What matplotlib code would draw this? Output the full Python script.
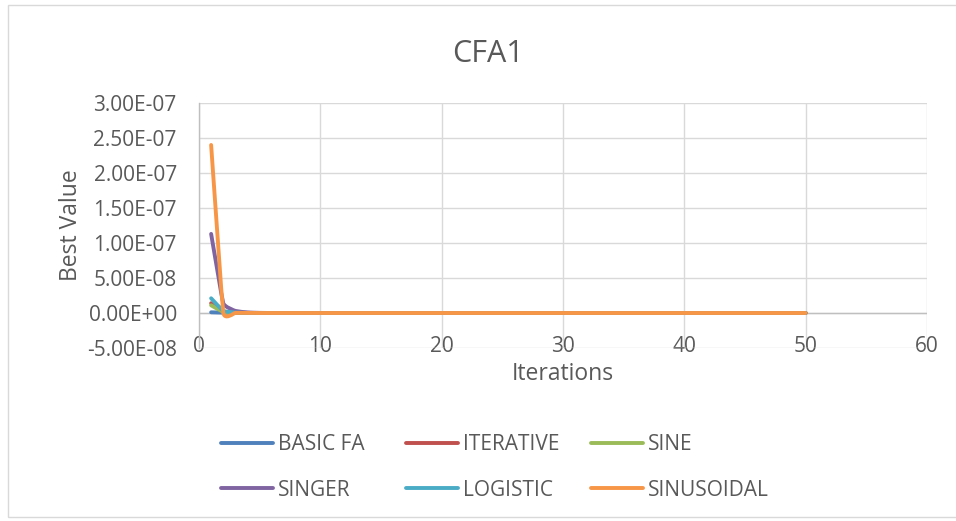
"""
CFA1 convergence chart – best value per iteration for each chaotic map variant.
"""

import numpy as np
import matplotlib
matplotlib.use("Agg")
import matplotlib.pyplot as plt
from matplotlib.path import Path
from matplotlib.patches import PathPatch, Rectangle
from matplotlib.lines import Line2D
from matplotlib.ticker import FuncFormatter

plt.rcParams['font.family'] = ['Open Sans', 'DejaVu Sans']

# ── Data ─────────────────────────────────────────────────────────────────────
iterations = list(range(1, 51))

basic_fa = [1.0e-9, 5.0e-10, 2.0e-10, 1.0e-10, 0.0, 0.0, 0.0, 0.0, 0.0, 0.0,
            0.0, 0.0, 0.0, 0.0, 0.0, 0.0, 0.0, 0.0, 0.0, 0.0,
            0.0, 0.0, 0.0, 0.0, 0.0, 0.0, 0.0, 0.0, 0.0, 0.0,
            0.0, 0.0, 0.0, 0.0, 0.0, 0.0, 0.0, 0.0, 0.0, 0.0,
            0.0, 0.0, 0.0, 0.0, 0.0, 0.0, 0.0, 0.0, 0.0, 0.0]
iterative = [1.4e-8, 2.0e-9, 5.0e-10, 1.0e-10, 0.0, 0.0, 0.0, 0.0, 0.0, 0.0,
             0.0, 0.0, 0.0, 0.0, 0.0, 0.0, 0.0, 0.0, 0.0, 0.0,
             0.0, 0.0, 0.0, 0.0, 0.0, 0.0, 0.0, 0.0, 0.0, 0.0,
             0.0, 0.0, 0.0, 0.0, 0.0, 0.0, 0.0, 0.0, 0.0, 0.0,
             0.0, 0.0, 0.0, 0.0, 0.0, 0.0, 0.0, 0.0, 0.0, 0.0]
sine = [1.1e-8, 1.5e-9, 4.0e-10, 1.0e-10, 0.0, 0.0, 0.0, 0.0, 0.0, 0.0,
        0.0, 0.0, 0.0, 0.0, 0.0, 0.0, 0.0, 0.0, 0.0, 0.0,
        0.0, 0.0, 0.0, 0.0, 0.0, 0.0, 0.0, 0.0, 0.0, 0.0,
        0.0, 0.0, 0.0, 0.0, 0.0, 0.0, 0.0, 0.0, 0.0, 0.0,
        0.0, 0.0, 0.0, 0.0, 0.0, 0.0, 0.0, 0.0, 0.0, 0.0]
singer = [1.13e-7, 1.4e-8, 3.0e-9, 8.0e-10, 2.0e-10, 0.0, 0.0, 0.0, 0.0, 0.0,
          0.0, 0.0, 0.0, 0.0, 0.0, 0.0, 0.0, 0.0, 0.0, 0.0,
          0.0, 0.0, 0.0, 0.0, 0.0, 0.0, 0.0, 0.0, 0.0, 0.0,
          0.0, 0.0, 0.0, 0.0, 0.0, 0.0, 0.0, 0.0, 0.0, 0.0,
          0.0, 0.0, 0.0, 0.0, 0.0, 0.0, 0.0, 0.0, 0.0, 0.0]
logistic = [2.1e-8, 3.0e-9, 6.0e-10, 1.0e-10, 0.0, 0.0, 0.0, 0.0, 0.0, 0.0,
            0.0, 0.0, 0.0, 0.0, 0.0, 0.0, 0.0, 0.0, 0.0, 0.0,
            0.0, 0.0, 0.0, 0.0, 0.0, 0.0, 0.0, 0.0, 0.0, 0.0,
            0.0, 0.0, 0.0, 0.0, 0.0, 0.0, 0.0, 0.0, 0.0, 0.0,
            0.0, 0.0, 0.0, 0.0, 0.0, 0.0, 0.0, 0.0, 0.0, 0.0]
sinusoidal = [2.40e-7, 5.0e-10, 2.0e-10, 1.0e-10, 0.0, 0.0, 0.0, 0.0, 0.0, 0.0,
              0.0, 0.0, 0.0, 0.0, 0.0, 0.0, 0.0, 0.0, 0.0, 0.0,
              0.0, 0.0, 0.0, 0.0, 0.0, 0.0, 0.0, 0.0, 0.0, 0.0,
              0.0, 0.0, 0.0, 0.0, 0.0, 0.0, 0.0, 0.0, 0.0, 0.0,
              0.0, 0.0, 0.0, 0.0, 0.0, 0.0, 0.0, 0.0, 0.0, 0.0]

series_names = ["BASIC FA", "ITERATIVE", "SINE", "SINGER", "LOGISTIC", "SINUSOIDAL"]
series_data = [basic_fa, iterative, sine, singer, logistic, sinusoidal]
series_colors = ["#4F81BD", "#C0504D", "#9BBB59", "#8064A2", "#4BACC6", "#F79646"]

y_ticks = [-5e-8, 0, 5e-8, 1e-7, 1.5e-7, 2e-7, 2.5e-7, 3e-7]
x_ticks = [0, 10, 20, 30, 40, 50, 60]

TENSION = 0.05   # smaller than plain Catmull-Rom (1/6) -> less overshoot
TEXT_COL = "#595959"
GRID_COL = "#D9D9D9"
AXIS_COL = "#BFBFBF"
LW = 2.8
FS = 15          # ticks + legend
W, H = 956, 521  # figure size in px


def smooth_path(xs, ys, k=TENSION):
    """Bezier path through the points, Excel-style smoothed line."""
    pts = np.column_stack([xs, ys]).astype(float)
    n = len(pts)
    verts = [pts[0]]
    codes = [Path.MOVETO]
    for i in range(n - 1):
        p0 = pts[i - 1] if i > 0 else pts[i]
        p1 = pts[i]
        p2 = pts[i + 1]
        p3 = pts[i + 2] if i + 2 < n else pts[i + 1]
        c1 = p1 + k * (p2 - p0)
        c2 = p2 - k * (p3 - p1)
        verts += [c1, c2, p2]
        codes += [Path.CURVE4] * 3
    return Path(verts, codes)


def fx(px):
    return px / W


def fy(py):
    return 1 - py / H


# ── Figure ───────────────────────────────────────────────────────────────────
fig = plt.figure(figsize=(W / 100, H / 100), dpi=100)
fig.patches.append(Rectangle((fx(8), fy(517)), fx(960) - fx(8), fy(5) - fy(517),
                             transform=fig.transFigure, fill=False,
                             edgecolor="#D9D9D9", linewidth=1.0))

ax = fig.add_axes([fx(199), fy(348), fx(927) - fx(199), fy(103) - fy(348)])
ax.set_xlim(0, 60)
ax.set_ylim(-5e-8, 3e-7)

for s in ["top", "right", "bottom"]:
    ax.spines[s].set_visible(False)
ax.spines["left"].set_color(AXIS_COL)
ax.spines["left"].set_linewidth(1.0)

ax.set_xticks(x_ticks)
ax.set_yticks(y_ticks)
ax.yaxis.set_major_formatter(FuncFormatter(
    lambda v, p: "0.00E+00" if v == 0 else "{:.2E}".format(v)))
ax.grid(True, color=GRID_COL, linewidth=1.0)
ax.set_axisbelow(True)
ax.axhline(0, color=AXIS_COL, linewidth=1.0, zorder=1)

ax.tick_params(axis="both", length=0, labelsize=FS, colors=TEXT_COL)
ax.tick_params(axis="x", pad=-9)
ax.tick_params(axis="y", pad=16)

for name, ys, col in zip(series_names, series_data, series_colors):
    ax.add_patch(PathPatch(smooth_path(iterations, ys), facecolor="none",
                           edgecolor=col, linewidth=LW, capstyle="round",
                           joinstyle="round", zorder=3))

ax.set_xlabel("Iterations", fontsize=16.5, color=TEXT_COL, labelpad=4)
ax.set_ylabel("Best Value", fontsize=16.5, color=TEXT_COL, labelpad=3)
fig.text(fx(488), fy(62), "CFA1", fontsize=22, color=TEXT_COL,
         ha="center", va="baseline")

# ── Legend: 3 columns x 2 rows, filled row by row ───────────────────────────
col_x = [221, 406, 591]        # left end of each legend key (px)
row_y = [443, 488]             # key line height (px)
key_len = 52
for i, (name, col) in enumerate(zip(series_names, series_colors)):
    r, c = divmod(i, 3)
    x0, y0 = col_x[c], row_y[r]
    fig.add_artist(Line2D([fx(x0), fx(x0 + key_len)], [fy(y0), fy(y0)],
                          transform=fig.transFigure, color=col, linewidth=LW,
                          solid_capstyle="round"))
    fig.text(fx(x0 + key_len + 5), fy(y0 + 7.5), name, fontsize=FS,
             color=TEXT_COL, ha="left", va="baseline")

fig.savefig("out.png", dpi=100)
